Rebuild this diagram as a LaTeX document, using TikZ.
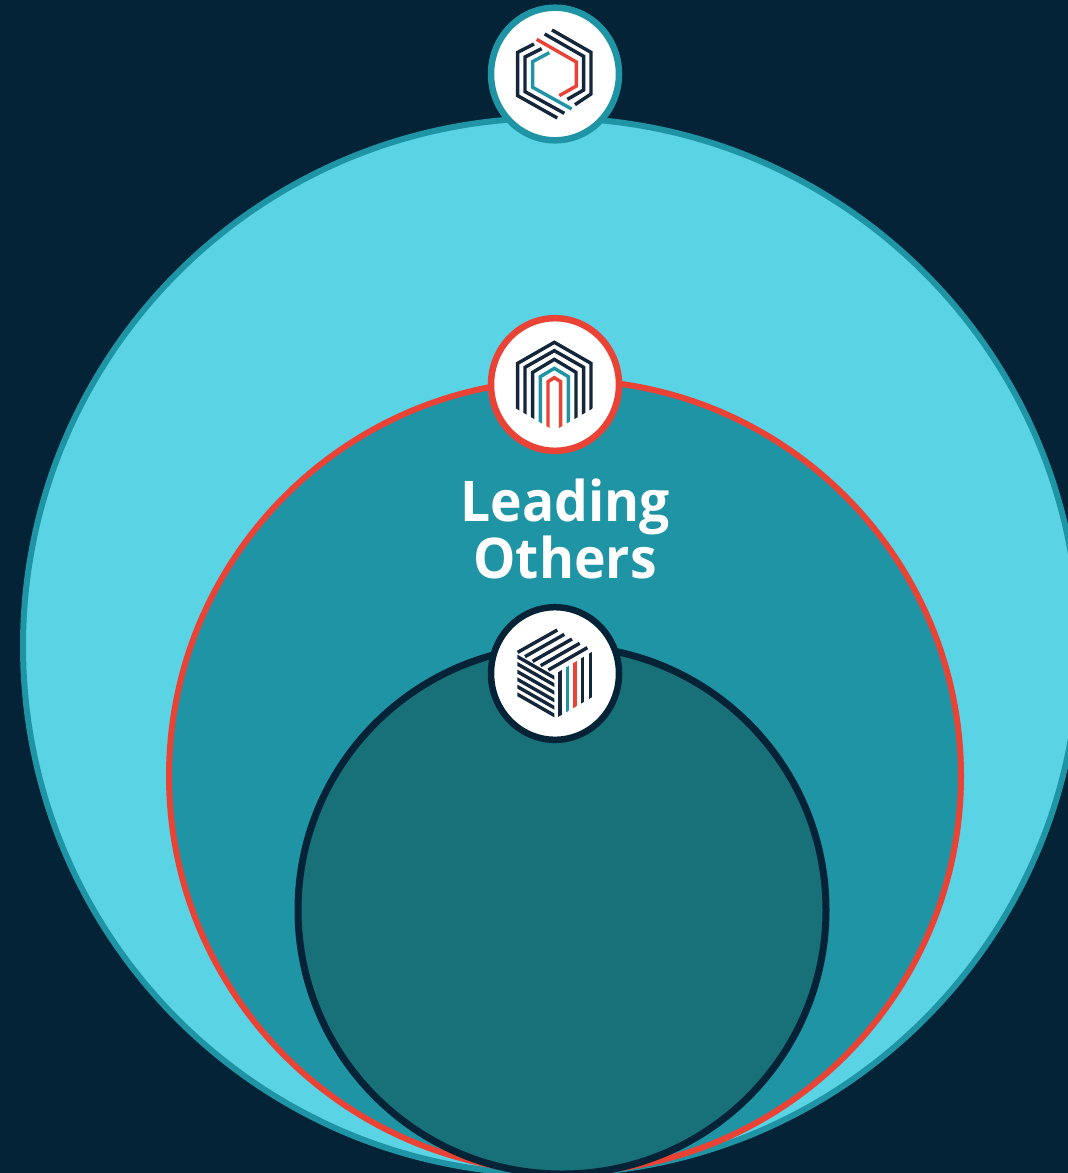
\documentclass[tikz,border=0pt]{standalone}
\usepackage{fontspec}
\setmainfont{Open Sans}
\definecolor{bgnavy}{HTML}{042336}
\definecolor{skyfill}{HTML}{5AD3E4}
\definecolor{tealfill}{HTML}{1F94A5}
\definecolor{deepfill}{HTML}{187079}
\definecolor{redline}{HTML}{EA4335}
\definecolor{iconnavy}{HTML}{14273A}
\tikzset{
  badge/.style={fill=white,line width=6.5pt},
  stroke3/.style={line width=3.4pt,line cap=butt,line join=miter,iconnavy},
  labeltext/.style={text=white,align=center,inner sep=0pt,font=\fontsize{53.4}{55}\selectfont\bfseries}
}
\begin{document}
\begin{tikzpicture}[x=1pt,y=-1pt]
\useasboundingbox (0,0) rectangle (1068,1173);
\clip (0,0) rectangle (1068,1173);
\fill[bgnavy] (0,0) rectangle (1068,1173);
% nested circles
\draw[tealfill,fill=skyfill,line width=6pt] (551,646) circle[radius=528];
\draw[redline,fill=tealfill,line width=6pt] (565,776) circle[radius=396];
\draw[bgnavy,fill=deepfill,line width=7pt] (562,910) circle[radius=264];
% badges
\draw[tealfill,badge] (555,74) ellipse[x radius=64,y radius=66.3];
\draw[redline,badge] (555,384.5) ellipse[x radius=64,y radius=66.3];
\draw[bgnavy,badge] (555,673.5) ellipse[x radius=64,y radius=66.3];
% icon 1
\begin{scope}[shift={(480,0)},x=0.3333pt,y=-0.3333pt]
\draw[stroke3] (216,90) -- (333,157) -- (333,282) -- (285,314);
\draw[stroke3] (194,102) -- (311,169) -- (311,270) -- (262,298);
\draw[stroke3,redline] (170,118) -- (289,186) -- (289,258) -- (238,287);
\draw[stroke3] (162,132) -- (113,157) -- (113,287) -- (232,354);
\draw[stroke3] (185,146) -- (135,171) -- (135,275) -- (253,340);
\draw[stroke3,tealfill] (208,158) -- (158,185) -- (158,262) -- (275,327);
\end{scope}
% icon 2
\begin{scope}[shift={(480,310)},x=0.3333pt,y=-0.3333pt]
\clip (100,291) -- (100,80) -- (346,80) -- (346,291) -- (223,362) -- cycle;
\draw[stroke3] (113,370) -- (113,160) -- (223,97) -- (333,160) -- (333,370);
\draw[stroke3] (135,370) -- (135,172) -- (223,122) -- (311,172) -- (311,370);
\draw[stroke3] (158,370) -- (158,187) -- (223,148) -- (288,187) -- (288,370);
\draw[stroke3,tealfill] (181,370) -- (181,200) -- (223,175) -- (265,200) -- (265,370);
\draw[stroke3,redline] (204,370) -- (204,215) -- (223,203) -- (242,215) -- (242,370);
\end{scope}
% icon 3
\begin{scope}[shift={(480,600)},x=0.3333pt,y=-0.3333pt]
\draw[stroke3] (113,157) -- (232,90);
\draw[stroke3] (135,170) -- (253,103);
\draw[stroke3] (158,184) -- (276,117);
\draw[stroke3] (182,197) -- (299,130);
\draw[stroke3] (205,210) -- (322,143);
\begin{scope}
\clip (112,160) rectangle (223,360);
\draw[stroke3] (102,164) -- (233,239);
\draw[stroke3] (102,186) -- (233,261);
\draw[stroke3] (102,209) -- (233,284);
\draw[stroke3] (102,232) -- (233,307);
\draw[stroke3] (102,254) -- (233,329);
\draw[stroke3] (102,277) -- (233,352);
\end{scope}
\begin{scope}
\clip (234,217) -- (337,155) -- (337,291) -- (234,351) -- cycle;
\draw[stroke3] (240,190) -- (240,370);
\draw[stroke3,tealfill] (262,190) -- (262,370);
\draw[stroke3,redline] (285,170) -- (285,370);
\draw[stroke3] (308,150) -- (308,370);
\draw[stroke3] (331,140) -- (331,370);
\end{scope}
\end{scope}
% label
\begin{scope}[shift={(565,529)}]
\node[labeltext,transform shape,yscale=1.05] (label) at (0,0) {Leading\\Others};
\end{scope}
\end{tikzpicture}
\end{document}
